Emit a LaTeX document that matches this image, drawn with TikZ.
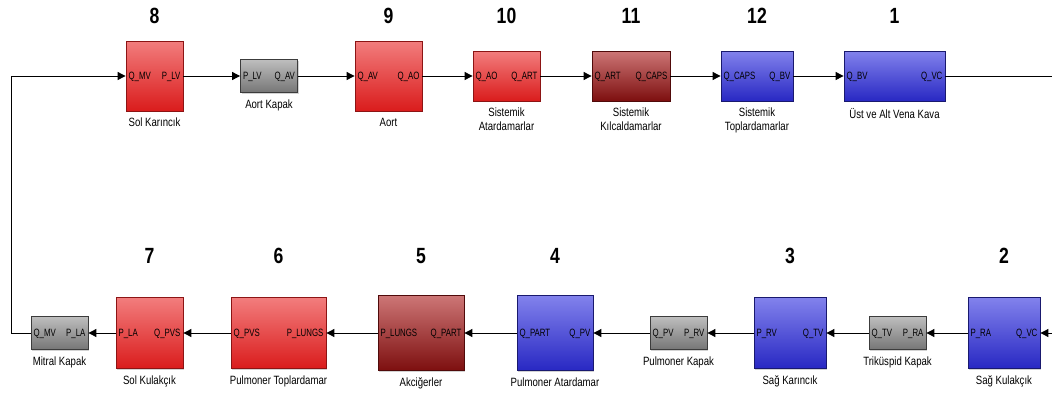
\documentclass[tikz,border=0pt]{standalone}
\usepackage{fontspec}
\setmainfont{Liberation Sans}[FakeStretch=0.8]
\newfontfamily\portfont{Liberation Sans}[FakeStretch=0.74]
\usetikzlibrary{arrows.meta,shadows}

% block colours (top and bottom of the shading, frame)
\definecolor{redtop}{RGB}{242,125,125}
\definecolor{redbot}{RGB}{218,28,28}
\definecolor{redline}{RGB}{140,20,20}
\definecolor{wintop}{RGB}{205,118,118}
\definecolor{winbot}{RGB}{125,15,15}
\definecolor{winline}{RGB}{80,10,10}
\definecolor{bluetop}{RGB}{130,130,236}
\definecolor{bluebot}{RGB}{40,40,195}
\definecolor{blueline}{RGB}{25,25,110}
\definecolor{graytop}{RGB}{190,190,190}
\definecolor{graybot}{RGB}{118,118,118}
\definecolor{grayline}{RGB}{60,60,60}

\tikzset{
  blk/.style={line width=0.8pt, inner sep=0pt,
    drop shadow={shadow xshift=1.2pt, shadow yshift=-1.2pt, opacity=0.35}},
  redblk/.style={blk, draw=redline, top color=redtop, bottom color=redbot},
  winblk/.style={blk, draw=winline, top color=wintop, bottom color=winbot},
  blueblk/.style={blk, draw=blueline, top color=bluetop, bottom color=bluebot},
  valve/.style={blk, draw=grayline, top color=graytop, bottom color=graybot,
    minimum width=57pt, minimum height=33pt},
  port/.style={font=\portfont\fontsize{10.6}{12}\selectfont, inner sep=2.8pt,
    text height=7.6pt, text depth=0pt},
  inport/.style={label={[port,anchor=west]west:#1}},
  outport/.style={label={[port,anchor=east]east:#1}},
  caption/.style={font=\fontsize{12}{14}\selectfont, align=center,
    inner sep=2pt, label distance=4.5pt},
  blkname/.style={label={[caption]below:#1}},
  num/.style={font=\fontsize{22}{24}\selectfont\bfseries},
  wire/.style={line width=0.9pt},
  flow/.style={wire, -{Triangle[length=8pt,width=8pt]}},
}

\begin{document}
\begin{tikzpicture}[x=1pt,y=-1pt]
    \useasboundingbox (0,0) rectangle (1052,394);

    % systemic side, left to right
    \node[redblk, minimum width=57pt, minimum height=70pt, inport=Q\_MV, outport=P\_LV,
      blkname=Sol Karıncık] (solkar) at (154.5,76) {};
    \node[valve, inport=P\_LV, outport=Q\_AV, blkname=Aort Kapak] (aortkap) at (269,76) {};
    \node[redblk, minimum width=67pt, minimum height=70pt, inport=Q\_AV, outport=Q\_AO,
      blkname=Aort] (aort) at (388.5,76) {};
    \node[redblk, minimum width=67pt, minimum height=50pt, inport=Q\_AO, outport=Q\_ART,
      blkname=Sistemik\\Atardamarlar] (sisart) at (506.5,76) {};
    \node[winblk, minimum width=78pt, minimum height=50pt, inport=Q\_ART, outport=Q\_CAPS,
      blkname=Sistemik\\Kılcaldamarlar] (siskil) at (631,76) {};
    \node[blueblk, minimum width=72pt, minimum height=50pt, inport=Q\_CAPS, outport=Q\_BV,
      blkname=Sistemik\\Toplardamarlar] (sistop) at (757,76) {};
    \node[blueblk, minimum width=101pt, minimum height=50pt, inport=Q\_BV, outport=Q\_VC,
      blkname=Üst ve Alt Vena Kava] (vkava) at (894.5,76) {};

    % pulmonary side, right to left
    \node[blueblk, minimum width=72pt, minimum height=71pt, inport=P\_RA, outport=Q\_VC,
      blkname=Sağ Kulakçık] (sagkul) at (1004,333) {};
    \node[valve, inport=Q\_TV, outport=P\_RA, blkname=Triküspid Kapak] (trikap) at (897.5,333) {};
    \node[blueblk, minimum width=72pt, minimum height=71pt, inport=P\_RV, outport=Q\_TV,
      blkname=Sağ Karıncık] (sagkar) at (790,333) {};
    \node[valve, inport=Q\_PV, outport=P\_RV, blkname=Pulmoner Kapak] (pulkap) at (678.5,333) {};
    \node[blueblk, minimum width=76pt, minimum height=75pt, inport=Q\_PART, outport=Q\_PV,
      blkname=Pulmoner Atardamar] (pulart) at (555,333) {};
    \node[winblk, minimum width=86pt, minimum height=75pt, inport=P\_LUNGS, outport=Q\_PART,
      blkname=Akciğerler] (akc) at (421,333) {};
    \node[redblk, minimum width=95pt, minimum height=71pt, inport=Q\_PVS, outport=P\_LUNGS,
      blkname=Pulmoner Toplardamar] (pultop) at (278.5,333) {};
    \node[redblk, minimum width=67pt, minimum height=71pt, inport=P\_LA, outport=Q\_PVS,
      blkname=Sol Kulakçık] (solkul) at (149.5,333) {};
    \node[valve, inport=Q\_MV, outport=P\_LA, blkname=Mitral Kapak] (mitkap) at (59.5,333) {};

    % numbers
    \node[num] at (solkar |- 0,16) {8};
    \node[num] at (aort |- 0,16) {9};
    \node[num] at (sisart |- 0,16) {10};
    \node[num] at (siskil |- 0,16) {11};
    \node[num] at (sistop |- 0,16) {12};
    \node[num] at (vkava |- 0,16) {1};
    \node[num] at (sagkul |- 0,256) {2};
    \node[num] at (sagkar |- 0,256) {3};
    \node[num] at (pulart |- 0,256) {4};
    \node[num] at (akc |- 0,256) {5};
    \node[num] at (pultop |- 0,256) {6};
    \node[num] at (solkul |- 0,256) {7};

    \coordinate (topend) at (1052,76);
    \coordinate (botstart) at (1052,333);
    \coordinate (loop) at (11,76);

    % connections
    \draw[flow] (solkar) -- (aortkap);
    \draw[flow] (aortkap) -- (aort);
    \draw[flow] (aort) -- (sisart);
    \draw[flow] (sisart) -- (siskil);
    \draw[flow] (siskil) -- (sistop);
    \draw[flow] (sistop) -- (vkava);
    \draw[wire] (vkava) -- (topend);

    \draw[flow] (botstart) -- (sagkul);
    \draw[flow] (sagkul) -- (trikap);
    \draw[flow] (trikap) -- (sagkar);
    \draw[flow] (sagkar) -- (pulkap);
    \draw[flow] (pulkap) -- (pulart);
    \draw[flow] (pulart) -- (akc);
    \draw[flow] (akc) -- (pultop);
    \draw[flow] (pultop) -- (solkul);
    \draw[flow] (solkul) -- (mitkap);
    \draw[flow] (mitkap) -| (loop) -- (solkar);

\end{tikzpicture}
\end{document}
